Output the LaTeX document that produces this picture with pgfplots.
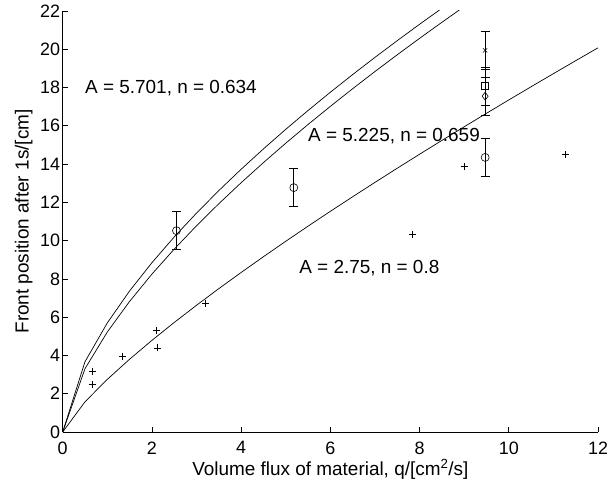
\documentclass[border=0pt]{standalone}
\usepackage{fontspec}
\setmainfont{Liberation Sans}
\usepackage{pgfplots}
\pgfplotsset{compat=1.18}

\begin{document}
\begin{tikzpicture}
\path[use as bounding box] (-62.7bp,-59bp) rectangle (544.3bp,432bp);
\begin{axis}[
    at={(0,0)}, anchor=south west,
    scale only axis,
    width=535.3bp, height=421bp,
    xmin=0, xmax=12, ymin=0, ymax=22,
    xtick={0,2,...,12}, ytick={0,2,...,22},
    axis x line*=bottom, axis y line*=left,
    tick align=inside,
    major tick length=5bp,
    axis line style={line width=0.7pt},
    tick style={line width=0.7pt, black},
    /pgf/number format/assume math mode=true,
    ticklabel style={font=\fontsize{18}{20}\selectfont},
    label style={font=\fontsize{19}{21}\selectfont},
    xticklabel style={yshift=-6bp},
    yticklabel style={xshift=1bp},
    xlabel={Volume flux of material, q/[cm\textsuperscript{2}/s]},
    ylabel={Front position after 1s/[cm]},
    xlabel style={at={(axis description cs:0.5,0)}, anchor=base, yshift=-43bp},
    ylabel style={at={(axis description cs:0,0.5)}, anchor=center, yshift=39bp},
    clip=true,
]
% fitted curves, A q^n, sampled every 0.5
\addplot[black, line width=0.7pt] coordinates {
 (0,0) (0.5,3.674) (1,5.701) (1.5,7.372) (2,8.847) (2.5,10.192) (3,11.440)
 (3.5,12.615) (4,13.730) (4.5,14.794) (5,15.816) (5.5,16.801) (6,17.754)
 (6.5,18.678) (7,19.577) (7.5,20.452) (8,21.306) (8.5,22.141)
};
\addplot[black, line width=0.7pt] coordinates {
 (0,0) (0.5,3.309) (1,5.225) (1.5,6.825) (2,8.250) (2.5,9.557) (3,10.777)
 (3.5,11.930) (4,13.027) (4.5,14.078) (5,15.091) (5.5,16.069) (6,17.017)
 (6.5,17.939) (7,18.837) (7.5,19.713) (8,20.570) (8.5,21.408) (9,22.230)
};
\addplot[black, line width=0.7pt] coordinates {
 (0,0) (0.5,1.579) (1,2.75) (1.5,3.804) (2,4.788) (2.5,5.724) (3,6.623)
 (3.5,7.492) (4,8.336) (4.5,9.160) (5,9.966) (5.5,10.755) (6,11.531)
 (6.5,12.293) (7,13.044) (7.5,13.784) (8,14.515) (8.5,15.236) (9,15.949)
 (9.5,16.654) (10,17.351) (10.5,18.042) (11,18.726) (11.5,19.404) (12,20.076)
};
% plus data
\addplot[black, only marks, mark=+, mark size=3.5bp, mark options={line width=0.6pt}] coordinates {
 (0.66,3.17) (0.66,2.50) (1.34,3.97) (2.10,5.33) (2.12,4.39) (3.20,6.72)
 (7.84,10.34) (9.00,13.86) (11.27,14.50)
};
% points with error bars
\pgfplotsset{ebars/.style={black, only marks, mark options={line width=0.6pt},
  error bars/y dir=both, error bars/y explicit,
  error bars/error bar style={line width=0.7pt},
  error bars/error mark options={rotate=90, mark size=4.5bp, line width=0.7pt}}}
\addplot[ebars, mark=o, mark size=4bp] coordinates {
 (2.55,10.52) +- (0,1) (5.18,12.77) +- (0,1) (9.47,14.35) +- (0,1)
};
\addplot[ebars, mark=x, mark size=3bp] coordinates {(9.47,19.94) +- (0,1)};
\addplot[ebars, mark=square, mark size=3.5bp] coordinates {(9.47,18.08) +- (0,1)};
\addplot[ebars, mark=diamond, mark size=4bp] coordinates {(9.47,17.55) +- (0,1)};

\node[anchor=west, inner sep=0pt, font=\fontsize{19}{21}\selectfont] at (axis cs:0.50,17.97) {A = 5.701, n = 0.634};
\node[anchor=west, inner sep=0pt, font=\fontsize{19}{21}\selectfont] at (axis cs:5.50,15.48) {A = 5.225, n = 0.659};
\node[anchor=west, inner sep=0pt, font=\fontsize{19}{21}\selectfont] at (axis cs:5.30,8.57) {A = 2.75, n = 0.8};
\end{axis}
\end{tikzpicture}
\end{document}
